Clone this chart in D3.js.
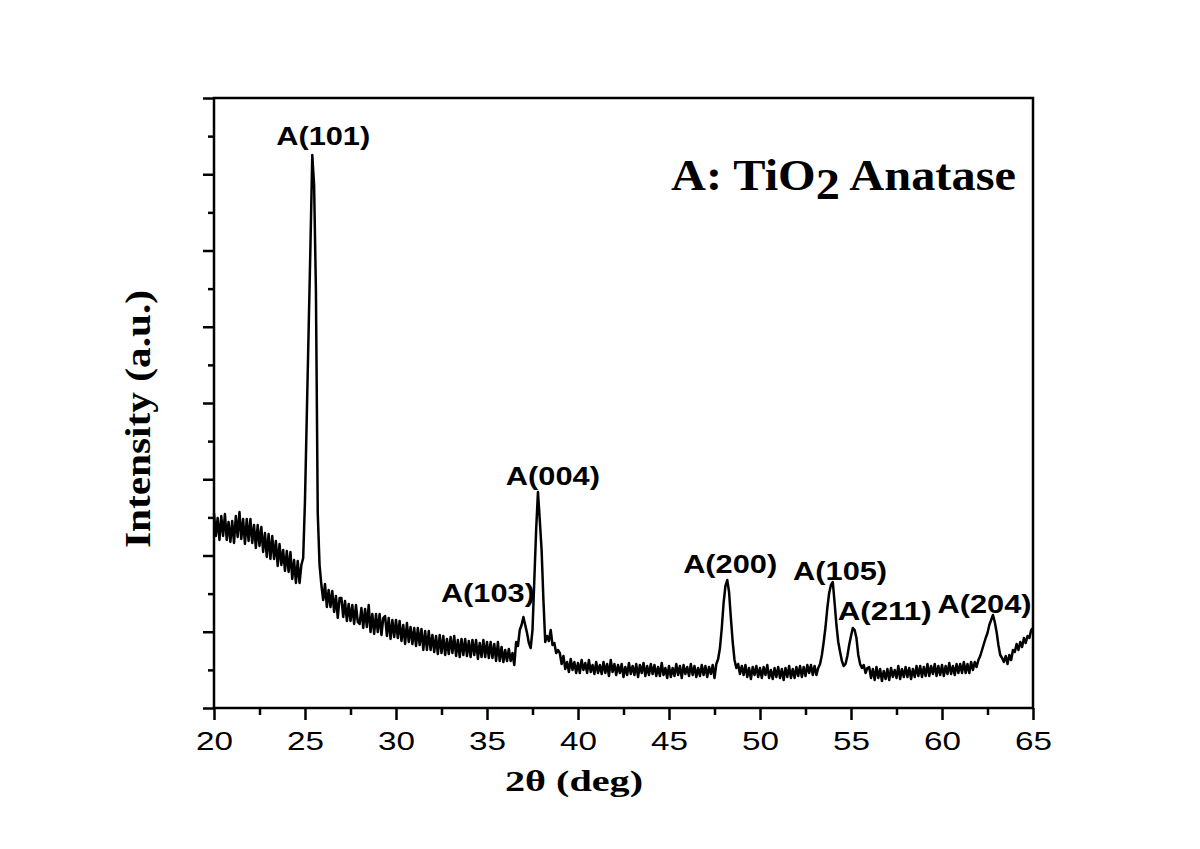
<!DOCTYPE html>
<html><head><meta charset="utf-8">
<script src="https://cdn.jsdelivr.net/npm/d3@7"></script>
<style>body{margin:0;background:#fff}</style>
</head><body>
<svg id="chart" width="1200" height="849"></svg>
<script>
// ---- data ----
const thetaStart = 20, thetaStep = 0.1;   // sampling grid of the scan (deg)
const intensity = [
 195,172,190,168,192,172,194,168,186,166,
 187,165,192,171,196,169,189,164,189,167,
 189,165,183,160,183,162,181,156,175,151,
 174,149,172,149,167,142,164,143,158,137,
 157,136,156,129,148,125,147,125,143,150,
 208,293,378,463,553,523,418,195,143,123,
 108,124,101,118,101,117,96,112,90,110,
 110,91,107,87,104,87,103,84,103,86,
 84,100,80,99,81,103,76,94,74,94,
 76,94,73,90,92,72,90,69,88,71,
 88,70,87,67,83,64,85,66,81,64,
 80,62,80,63,79,58,77,58,77,58,
 73,56,72,54,73,55,72,53,69,54,
 71,55,72,52,68,51,69,53,69,52,
 67,51,68,53,68,49,65,51,68,51,
 66,50,66,50,64,47,66,47,61,46,
 58,47,59,47,55,43,66,62,78,83,
 91,83,75,65,60,78,128,178,216,188,
 158,108,66,72,67,78,63,65,55,58,
 55,44,52,39,46,36,49,38,46,35,
 45,35,48,38,45,35,48,36,43,34,
 46,35,43,34,46,35,44,32,48,36,
 44,33,43,35,44,31,41,33,45,34,
 42,33,44,31,43,35,45,32,42,33,
 44,34,43,32,41,32,45,33,40,30,
 42,31,40,32,44,33,42,30,43,34,
 41,32,44,33,42,31,40,32,43,33,
 42,31,41,34,43,30,44,49,60,80,
 105,122,128,116,90,66,48,40,44,34,
 42,33,43,31,40,29,41,33,42,31,
 40,30,41,33,43,30,38,29,40,31,
 41,30,39,28,40,31,42,30,39,30,
 41,32,42,31,41,32,43,35,43,33,
 42,33,40,44,53,66,81,100,115,123,
 126,105,83,66,56,47,42,44,52,63,
 72,80,78,70,53,44,40,43,35,40,
 41,30,39,28,41,30,39,27,37,29,
 39,28,40,31,38,30,42,29,39,31,
 41,31,40,29,39,31,42,32,42,31,
 41,32,44,32,42,34,44,32,42,33,
 43,32,42,34,45,34,42,33,44,35,
 44,35,46,35,44,35,46,38,46,41,
 48,52,58,64,70,75,83,88,93,86,
 76,63,53,50,46,52,44,53,48,58,
 56,64,58,66,61,70,65,72,70,78,
 80
];
const xDomain = [20, 65];
const yDomain = [0, 610];
const xMajorTicks = [20,25,30,35,40,45,50,55,60,65];
const xMinorTicks = [22.5,27.5,32.5,37.5,42.5,47.5,52.5,57.5,62.5];
const yMajorTicks = [0,76.25,152.5,228.75,305,381.25,457.5,533.75,610];
const yMinorTicks = [38.125,114.375,190.625,266.875,343.125,419.375,495.625,571.875];
const peakNames = ["A(101)","A(103)","A(004)","A(200)","A(105)","A(211)","A(204)"];
const peakLabelTheta = [26.0, 35.05, 38.62, 48.36, 54.40, 56.85, 62.34];
const peakLabelLevel = [563, 106, 223, 135, 128, 88, 95];
const xTitle = "2θ (deg)";
const yTitle = "Intensity (a.u.)";

// ---- layout ----
const L = 214, R = 1033, T = 98, B = 708;
const svg = d3.select("#chart");
const x = d3.scaleLinear().domain(xDomain).range([L, R]);
const y = d3.scaleLinear().domain(yDomain).range([B, T]);

const sans = "'Liberation Sans', Arial, Helvetica, sans-serif";
const serif = "'Liberation Serif', 'Times New Roman', Times, serif";

// curve
const pts = intensity.map((v, i) => [thetaStart + i * thetaStep, v]);
svg.append("path")
  .datum(pts)
  .attr("fill", "none")
  .attr("stroke", "#000")
  .attr("stroke-width", 2.5)
  .attr("stroke-linejoin", "round")
  .attr("d", d3.line().x(d => x(d[0])).y(d => y(d[1])));

// axes
function styleAxis(g) {
  g.select(".domain").remove();
  g.selectAll(".tick line").attr("stroke", "#000").attr("stroke-width", 2.5);
}
svg.append("g").attr("transform", `translate(0,${B})`)
  .call(d3.axisBottom(x).tickValues(xMinorTicks).tickSize(7).tickFormat(""))
  .call(styleAxis);
const xg = svg.append("g").attr("transform", `translate(0,${B})`)
  .call(d3.axisBottom(x).tickValues(xMajorTicks).tickSize(12).tickPadding(12).tickFormat(d3.format("d")))
  .call(styleAxis);
xg.selectAll(".tick text")
  .attr("font-family", sans).attr("font-size", 25).attr("fill", "#000")
  .attr("textLength", 37).attr("lengthAdjust", "spacingAndGlyphs");

svg.append("g").attr("transform", `translate(${L},0)`)
  .call(d3.axisLeft(y).tickValues(yMinorTicks).tickSize(6).tickFormat(""))
  .call(styleAxis);
svg.append("g").attr("transform", `translate(${L},0)`)
  .call(d3.axisLeft(y).tickValues(yMajorTicks).tickSize(11).tickFormat(""))
  .call(styleAxis);

// frame
svg.append("rect")
  .attr("x", L).attr("y", T).attr("width", R - L).attr("height", B - T)
  .attr("fill", "none").attr("stroke", "#000").attr("stroke-width", 2.5);

// peak labels
svg.append("g").selectAll("text")
  .data(peakNames)
  .join("text")
  .attr("x", (d, i) => x(peakLabelTheta[i]))
  .attr("y", (d, i) => y(peakLabelLevel[i]))
  .attr("text-anchor", "middle")
  .attr("font-family", sans).attr("font-weight", "bold").attr("font-size", 25)
  .attr("textLength", 94).attr("lengthAdjust", "spacingAndGlyphs")
  .text(d => d);

// axis titles
svg.append("text")
  .attr("x", 574).attr("y", 791)
  .attr("text-anchor", "middle")
  .attr("font-family", serif).attr("font-weight", "bold").attr("font-size", 29)
  .attr("textLength", 138).attr("lengthAdjust", "spacingAndGlyphs")
  .text(xTitle);

svg.append("text")
  .attr("transform", "translate(150,419) rotate(-90)")
  .attr("text-anchor", "middle")
  .attr("font-family", serif).attr("font-weight", "bold").attr("font-size", 35)
  .attr("textLength", 258).attr("lengthAdjust", "spacingAndGlyphs")
  .text(yTitle);

// chart title
const title = svg.append("text")
  .attr("font-family", serif).attr("font-weight", "bold").attr("font-size", 44);
title.append("tspan").text("A: TiO");
title.append("tspan").attr("dy", 9).text("2");
title.append("tspan").attr("dy", -9).text(" Anatase");
const tw = title.node().getComputedTextLength();
title.attr("transform", `translate(671,190) scale(${345 / tw},1)`);
</script>
</body></html>
